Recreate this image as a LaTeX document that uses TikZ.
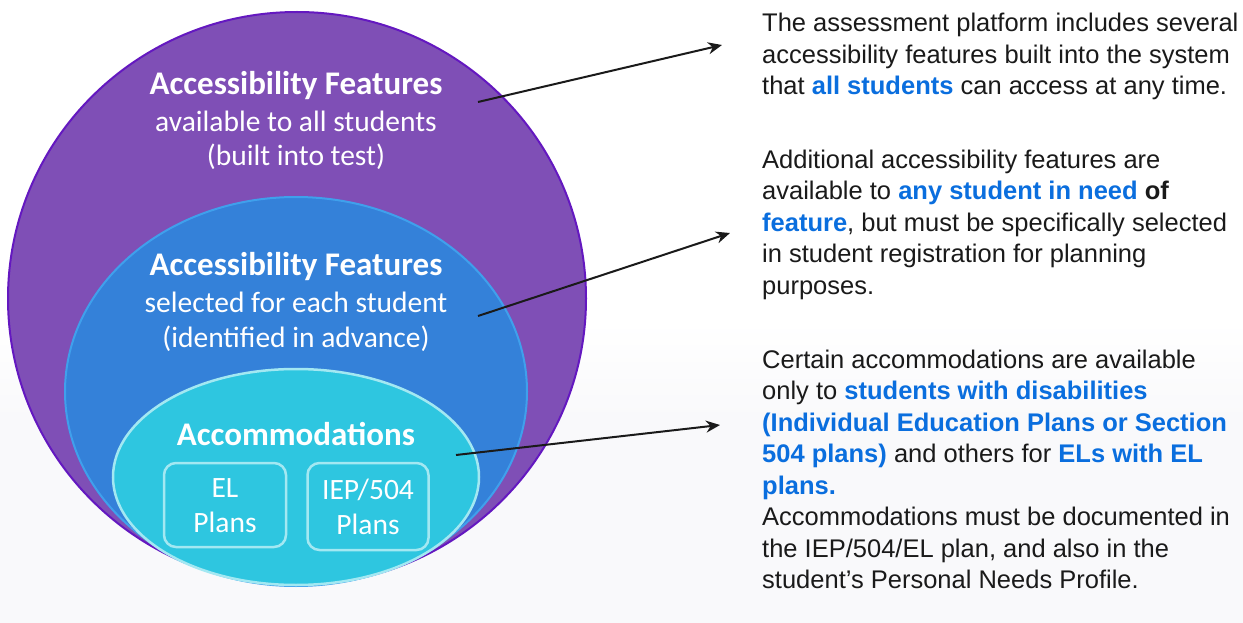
\documentclass[tikz,border=0pt]{standalone}
\usepackage{fontspec}
\setmainfont{Liberation Sans}
\newfontfamily\calfont{Carlito}
\usetikzlibrary{shapes.geometric,arrows.meta}
\definecolor{purfill}{RGB}{127,79,182}
\definecolor{purline}{RGB}{100,24,192}
\definecolor{blufill}{RGB}{52,129,217}
\definecolor{bluline}{RGB}{63,160,236}
\definecolor{cyafill}{RGB}{46,198,224}
\definecolor{cyaline}{RGB}{163,232,242}
\definecolor{txt}{RGB}{26,26,26}
\definecolor{hl}{RGB}{10,110,222}
\definecolor{bgb}{RGB}{249,249,251}
\newcommand{\hb}[1]{\textcolor{hl}{\textbf{#1}}}
\tikzset{
  ring/.style={ellipse, inner sep=0pt, line width=2pt},
  plan/.style={draw=cyaline, fill=cyafill, line width=2.5pt, rounded corners=12pt, inner sep=0pt},
  head/.style={anchor=base, inner sep=0pt, text=white, font=\calfont\bfseries\fontsize{33}{36}\selectfont},
  sub/.style={anchor=base, inner sep=0pt, text=white, font=\calfont\fontsize{29.5}{35}\selectfont},
  rt/.style={anchor=base west, inner sep=0pt, text=txt, font=\fontsize{25.5}{31}\selectfont},
  arr/.style={draw=txt, line width=2pt, -{Stealth[length=14pt,width=12pt]}},
}
\begin{document}
\begin{tikzpicture}[x=1pt,y=-1pt]
\useasboundingbox (0,0) rectangle (1243,623);
\fill[white] (0,0) rectangle (1243,623);
\fill[top color=white, bottom color=bgb] (0,320) rectangle (1243,420);
\fill[bgb] (0,420) rectangle (1243,623);
% rings
\node[ring, draw=purline, fill=purfill, minimum width=578pt, minimum height=573pt] (outer) at (297,298.5) {};
\node[ring, draw=bluline, fill=blufill, minimum width=462pt, minimum height=389pt] (mid) at (296,391.5) {};
\node[ring, draw=cyaline, fill=cyafill, line width=2.5pt, minimum width=366pt, minimum height=216pt] (inner) at (296,477) {};
% ring texts
\node[head] (h1) at (296,95) {Accessibility Features};
\node[sub] (s1a) at (296,132) {available to all students};
\node[sub] (s1b) at (296,166) {(built into test)};
\node[head] (h2) at (296,275) {Accessibility Features};
\node[sub] (s2a) at (296,312) {selected for each student};
\node[sub] (s2b) at (296,347) {(identified in advance)};
\node[head] (h3) at (296,445) {Accommodations};
\node[plan, minimum width=122pt, minimum height=84pt] (el) at (225,505) {};
\node[plan, minimum width=121pt, minimum height=87pt] (iep) at (368,506.5) {};
\node[sub] (elt) at (225,497) {EL};
\node[sub] (elp) at (225,532) {Plans};
\node[sub] (iept) at (368,499) {IEP/504};
\node[sub] (iepp) at (368,534) {Plans};
% right texts
\node[rt] (r1a) at (762,32) {The assessment platform includes several};
\node[rt] (r1b) at (762,63.5) {accessibility features built into the system};
\node[rt] (r1c) at (762,95) {that \hb{all students} can access at any time.};
\node[rt] (r2a) at (762,168) {Additional accessibility features are};
\node[rt] (r2b) at (762,199.5) {available to \hb{any student in need} \textbf{of}};
\node[rt] (r2c) at (762,231) {\hb{feature}, but must be specifically selected};
\node[rt] (r2d) at (762,262.5) {in student registration for planning};
\node[rt] (r2e) at (762,294) {purposes.};
\node[rt] (r3a) at (762,368) {Certain accommodations are available};
\node[rt] (r3b) at (762,399.5) {only to \hb{students with disabilities}};
\node[rt] (r3c) at (762,431) {\hb{(Individual Education Plans or Section}};
\node[rt] (r3d) at (762,462.5) {\hb{504 plans)} and others for \hb{ELs with EL}};
\node[rt] (r3e) at (762,494) {\hb{plans.}};
\node[rt] (r3f) at (762,525.5) {Accommodations must be documented in};
\node[rt] (r3g) at (762,557) {the IEP/504/EL plan, and also in the};
\node[rt] (r3h) at (762,588.5) {student’s Personal Needs Profile.};
% arrows
\coordinate (a1s) at (478,102);
\coordinate (a1e) at (722,45);
\coordinate (a2s) at (478,316);
\coordinate (a2e) at (730,233);
\coordinate (a3s) at (456,455);
\coordinate (a3e) at (720,425);
\draw[arr] (a1s) -- (a1e);
\draw[arr] (a2s) -- (a2e);
\draw[arr] (a3s) -- (a3e);
\end{tikzpicture}
\end{document}
